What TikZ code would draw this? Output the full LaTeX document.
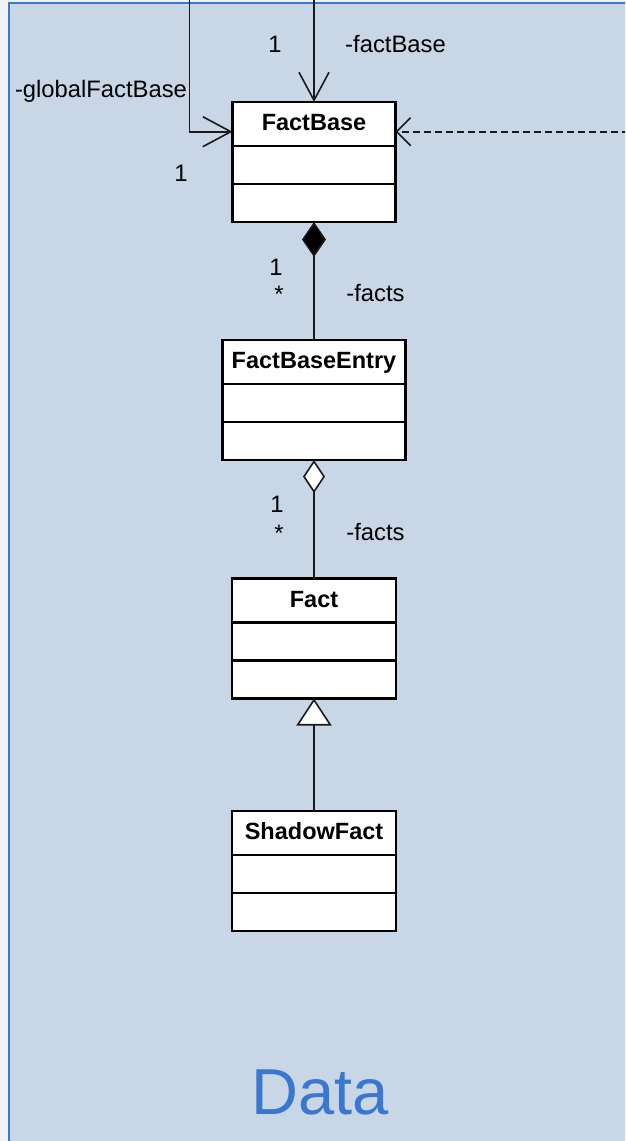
\documentclass[tikz,border=0pt]{standalone}
\usepackage{fontspec}
\setmainfont{Liberation Sans}
\usetikzlibrary{arrows.meta,calc}

\definecolor{pageback}{HTML}{EEF1F6}
\definecolor{panelfill}{HTML}{C8D6E6}
\definecolor{panelblue}{HTML}{3A78D0}
\definecolor{linedark}{HTML}{1A1A1A}

\tikzset{
  classbox/.style={draw=black, fill=white, line width=2.2pt, anchor=north,
    minimum height=120pt, inner sep=0pt, outer sep=0pt},
  classline/.style={draw=black, line width=2.2pt},
  classtitle/.style={anchor=base, inner sep=0pt, font=\fontsize{23.5}{27}\selectfont\bfseries},
  lab/.style={anchor=base, inner sep=0pt, font=\fontsize{23.8}{27}\selectfont},
  assoc/.style={draw=linedark, line width=1.6pt},
  dashline/.style={dash pattern=on 7pt off 4pt},
  openhead/.style={-{Straight Barb[length=28pt,width=30pt]}},
  smallhead/.style={-{Straight Barb[length=14pt,width=28pt]}},
}

% a UML class: name, centre x, top y, width, title
\newcommand\umlclass[5]{%
  \node[classbox, minimum width=#4] (#1) at (#2,#3) {};
  \draw[classline] ([yshift=-44pt]#1.north west) -- ([yshift=-44pt]#1.north east);
  \draw[classline] ([yshift=-82pt]#1.north west) -- ([yshift=-82pt]#1.north east);
  \node[classtitle] (#1-title) at ([yshift=-28.5pt]#1.north) {#5};
}

\begin{document}
\begin{tikzpicture}[x=1pt,y=-1pt]
  \useasboundingbox (0,0) rectangle (625,1141);
  \clip (0,0) rectangle (625,1141);
  \fill[pageback] (0,0) rectangle (625,1141);

  % package frame
  \draw[fill=panelfill, draw=panelblue, line width=2pt] (8.5,3.3) rectangle (660,1180);
  \node[anchor=base, inner sep=0pt, text=panelblue, font=\fontsize{65}{70}\selectfont] (pkgname) at (320,1114.3) {Data};

  % classes
  \umlclass{FactBase}{314}{102}{163}{FactBase}
  \umlclass{FactBaseEntry}{314}{340}{183}{FactBaseEntry}
  \umlclass{Fact}{314}{578.5}{164}{Fact}
  \umlclass{ShadowFact}{314}{811}{164}{ShadowFact}

  % incoming associations from above the frame
  \coordinate (gTop) at (189.3,-5);
  \coordinate (gTurn) at (189.3,131.7);
  \draw[assoc, openhead] (gTop) |- (FactBase.west |- gTurn);

  \coordinate (fTop) at (314,-5);
  \draw[assoc, openhead] (fTop) -- (FactBase.north);

  \coordinate (dEnd) at (640,131.7);
  \draw[assoc, dashline, smallhead] (dEnd) -- (FactBase.east |- dEnd);

  % composition, aggregation, generalization
  \draw[assoc, {Diamond[length=35pt,width=24pt,fill=black]}-] (FactBase.south) -- (FactBaseEntry.north);
  \draw[assoc, {Diamond[length=33pt,width=22pt,fill=white]}-] (FactBaseEntry.south) -- (Fact.north);
  \draw[assoc, {Triangle[length=27pt,width=35pt,fill=white]}-] (Fact.south) -- (ShadowFact.north);

  % role names and multiplicities
  \node[lab] (mFb) at (275,52.5) {1};
  \node[lab] (rFb) at (395.5,52) {-factBase};
  \node[lab] (rGfb) at (101,97) {-globalFactBase};
  \node[lab] (mGfb) at (181,181.7) {1};

  \node[lab] (mFacts1a) at (276,275) {1};
  \node[lab] (mFacts1b) at (279,302.5) {*};
  \node[lab] (rFacts1) at (375.5,301.7) {-facts};

  \node[lab] (mFacts2a) at (277,512.7) {1};
  \node[lab] (mFacts2b) at (279,541.5) {*};
  \node[lab] (rFacts2) at (375.5,540.7) {-facts};
\end{tikzpicture}
\end{document}
